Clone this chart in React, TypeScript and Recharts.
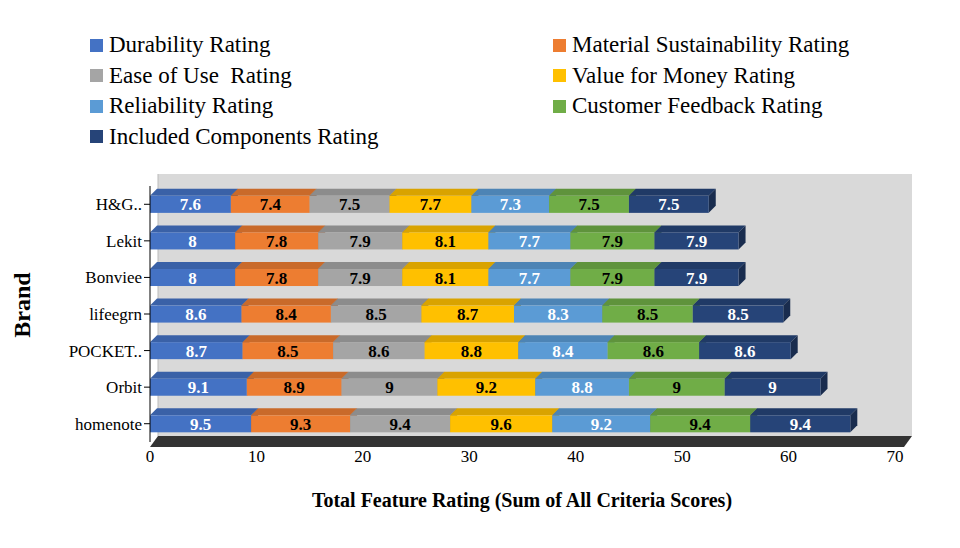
import { BarChart, Bar, XAxis, YAxis, LabelList } from 'recharts'

const brands = ['H&G..', 'Lekit', 'Bonviee', 'lifeegrn', 'POCKET..', 'Orbit', 'homenote']
const durability = [7.6, 8, 8, 8.6, 8.7, 9.1, 9.5]
const material = [7.4, 7.8, 7.8, 8.4, 8.5, 8.9, 9.3]
const ease = [7.5, 7.9, 7.9, 8.5, 8.6, 9, 9.4]
const value = [7.7, 8.1, 8.1, 8.7, 8.8, 9.2, 9.6]
const reliability = [7.3, 7.7, 7.7, 8.3, 8.4, 8.8, 9.2]
const feedback = [7.5, 7.9, 7.9, 8.5, 8.6, 9, 9.4]
const included = [7.5, 7.9, 7.9, 8.5, 8.6, 9, 9.4]
const xTicks = [0, 10, 20, 30, 40, 50, 60, 70]

const series = [
  { key: 'durability', name: 'Durability Rating', color: '#4472C4', text: '#fff' },
  { key: 'material', name: 'Material Sustainability Rating', color: '#ED7D31', text: '#000' },
  { key: 'ease', name: 'Ease of Use  Rating', color: '#A5A5A5', text: '#000' },
  { key: 'value', name: 'Value for Money Rating', color: '#FFC000', text: '#000' },
  { key: 'reliability', name: 'Reliability Rating', color: '#5B9BD5', text: '#fff' },
  { key: 'feedback', name: 'Customer Feedback Rating', color: '#70AD47', text: '#000' },
  { key: 'included', name: 'Included Components Rating', color: '#264478', text: '#fff' },
]

const data = brands.map((b, i) => ({
  brand: b,
  durability: durability[i],
  material: material[i],
  ease: ease[i],
  value: value[i],
  reliability: reliability[i],
  feedback: feedback[i],
  included: included[i],
}))

const font = '"Liberation Serif", "Times New Roman", serif'

function shade(hex: string, f: number) {
  const n = parseInt(hex.slice(1), 16)
  const r = Math.round(((n >> 16) & 255) * f)
  const g = Math.round(((n >> 8) & 255) * f)
  const b = Math.round((n & 255) * f)
  return `rgb(${r},${g},${b})`
}

const D = 7
function Bar3D(props: any) {
  const { x, y, width, height, fill } = props
  if (!width || width <= 0) return null
  return (
    <g>
      <polygon points={`${x},${y} ${x + D},${y - D} ${x + width + D},${y - D} ${x + width},${y}`} fill={shade(fill, 0.85)} />
      <polygon points={`${x + width},${y} ${x + width + D},${y - D} ${x + width + D},${y + height - D} ${x + width},${y + height}`} fill={shade(fill, 0.65)} />
      <rect x={x} y={y} width={width} height={height} fill={fill} />
    </g>
  )
}

export default function App() {
  return (
    <div style={{ position: 'absolute', left: 0, top: 0, width: 960, height: 548, background: '#fff', fontFamily: font }}>
      <svg style={{ position: 'absolute', left: 0, top: 0 }} width={960} height={548}>
        <rect x={158} y={174} width={754} height={262} fill="#d9d9d9" />
        <polygon points="150,447 158,436 912,436 904,447" fill="#333" />
        <line x1={158} y1={174} x2={158} y2={436} stroke="#bbb" />
      </svg>
      {series.map((s, i) => (
        <div key={s.key} style={{ position: 'absolute', left: i % 2 === 0 ? 90 : 553, top: 32 + Math.floor(i / 2) * 30.5, fontSize: 23, display: 'flex', alignItems: 'center', whiteSpace: 'pre' }}>
          <span style={{ width: 13, height: 13, background: s.color, marginRight: 6, display: 'inline-block' }} />
          {s.name}
        </div>
      ))}
      <div style={{ position: 'absolute', left: 22, top: 305, transform: 'translate(-50%,-50%) rotate(-90deg)', fontSize: 24, fontWeight: 'bold' }}>Brand</div>
      <div style={{ position: 'absolute', left: 522, top: 500, transform: 'translate(-50%,-50%)', fontSize: 20, fontWeight: 'bold', whiteSpace: 'nowrap' }}>
        Total Feature Rating (Sum of All Criteria Scores)
      </div>
      <div style={{ position: 'absolute', left: 0, top: 0 }}>
        <BarChart width={960} height={548} data={data} layout="vertical" barCategoryGap="27%" margin={{ top: 186, right: 65, bottom: 70, left: 0 }}>
          <XAxis type="number" domain={[0, 70]} ticks={xTicks} axisLine={false} tickLine={false} tick={{ fill: '#000', fontSize: 17, fontFamily: font }} height={36} />
          <YAxis type="category" dataKey="brand" width={150} axisLine={{ stroke: '#000' }} tickLine={{ stroke: '#000' }} tick={{ fill: '#000', fontSize: 17, fontFamily: font }} />
          {series.map((s) => (
            <Bar key={s.key} dataKey={s.key} stackId="a" fill={s.color} shape={<Bar3D />} isAnimationActive={false}>
              <LabelList dataKey={s.key} position="center" fill={s.text} fontSize={17} fontWeight="bold" fontFamily={font} />
            </Bar>
          ))}
        </BarChart>
      </div>
    </div>
  )
}
